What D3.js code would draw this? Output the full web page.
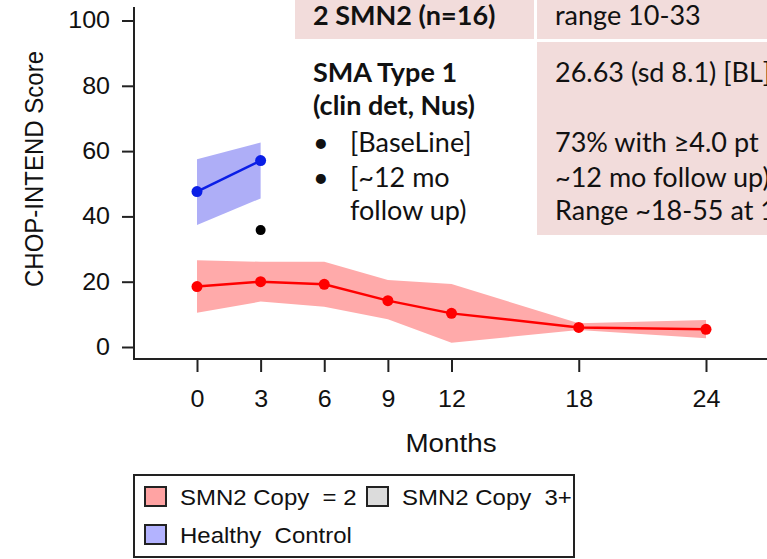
<!DOCTYPE html>
<html>
<head>
<meta charset="utf-8">
<script src="https://cdn.jsdelivr.net/npm/d3@7"></script>
<style>
  html, body { margin: 0; padding: 0; background: #fff; }
  svg { display: block; }
  text { white-space: pre; }
</style>
</head>
<body>
<svg id="chart" width="767" height="559"></svg>
<script>
// CHOP-INTEND score over follow-up months
const months = [0, 3, 6, 9, 12, 18, 24];
const copy2Mean  = [18.5, 20.0, 19.2, 14.2, 10.3, 6.0, 5.4];
const copy2Upper = [26.6, 26.1, 26.1, 20.5, 19.3, 7.3, 8.3];
const copy2Lower = [10.5, 13.9, 12.3, 8.5, 1.3, 5.2, 2.7];

const healthyMonths = [0, 3];
const healthyMean  = [47.6, 57.1];
const healthyUpper = [57.5, 62.6];
const healthyLower = [37.4, 45.5];

const copy3Months = [3];
const copy3Mean = [35.8];

const yTicks = [0, 20, 40, 60, 80, 100];
const xTicks = months;

const legendItems = [
  { label: "SMN2 Copy  = 2", fill: "#ffa3a3" },
  { label: "SMN2 Copy  3+", fill: "#dcdcdc" },
  { label: "Healthy  Control", fill: "#b3b3ff" }
];

// summary table text
const tableHeader = ["2 SMN2 (n=16)", "range 10-33"];
const tableLeft = ["SMA Type 1", "(clin det, Nus)"];
const tableBullets = ["[BaseLine]", "[~12 mo", "follow up)"];
const tableRight = ["26.63 (sd 8.1) [BL]", "73% with \u22654.0 pt \u2191", "~12 mo follow up)", "Range ~18-55 at 12 mo"];

const svg = d3.select("#chart");
const SX = 1.09; // horizontal stretch of chart lettering
const chartFont = "'Liberation Sans', Arial, Helvetica, sans-serif";

const x = d3.scaleLinear().domain([0, 24]).range([197, 706]);
const y = d3.scaleLinear().domain([0, 100]).range([347, 20.5]);

const axisX = 134, axisY = 359;

// ---- summary table ----
const tbl = svg.append("g").attr("font-family", "Lato, 'Open Sans', sans-serif").attr("font-size", 27).attr("fill", "#111");
tbl.append("rect").attr("x", 295).attr("y", 0).attr("width", 239).attr("height", 39).attr("fill", "#f2dcdb");
tbl.append("rect").attr("x", 537).attr("y", 0).attr("width", 230).attr("height", 39).attr("fill", "#f2dcdb");
tbl.append("rect").attr("x", 537).attr("y", 42).attr("width", 230).attr("height", 193).attr("fill", "#f2dcdb");
tbl.append("text").attr("x", 313).attr("y", 25).attr("font-weight", "bold").text(tableHeader[0]);
tbl.append("text").attr("x", 555).attr("y", 25).text(tableHeader[1]);
tableLeft.forEach((t, i) => {
  tbl.append("text").attr("x", 313).attr("y", 82 + i * 33).attr("font-weight", "bold").text(t);
});
const bulletY = [152, 187, 220];
tableBullets.forEach((t, i) => {
  if (i < 2) tbl.append("text").attr("x", 313).attr("y", bulletY[i]).text("\u2022");
  tbl.append("text").attr("x", 350).attr("y", bulletY[i]).text(t);
});
const rightY = [82, 152, 187, 220];
tableRight.forEach((t, i) => {
  tbl.append("text").attr("x", 555).attr("y", rightY[i]).text(t);
});

// ---- bands ----
const band = (m, lo, hi) => d3.area()
  .x((d, i) => x(m[i]))
  .y0((d, i) => y(lo[i]))
  .y1((d, i) => y(hi[i]))(m);

svg.append("path").attr("d", band(months, copy2Lower, copy2Upper))
  .attr("fill", "#ffaaaa");
svg.append("path").attr("d", band(healthyMonths, healthyLower, healthyUpper))
  .attr("fill", "#aeaef7");

// ---- lines and points ----
const line = (m, v) => d3.line().x((d, i) => x(m[i])).y((d, i) => y(v[i]))(m);

svg.append("path").attr("d", line(months, copy2Mean))
  .attr("fill", "none").attr("stroke", "#ff0000").attr("stroke-width", 2.5);
svg.selectAll("circle.c2").data(months).enter().append("circle")
  .attr("cx", (d) => x(d)).attr("cy", (d, i) => y(copy2Mean[i])).attr("r", 5.5).attr("fill", "#ff0000");

svg.append("path").attr("d", line(healthyMonths, healthyMean))
  .attr("fill", "none").attr("stroke", "#0a1ee6").attr("stroke-width", 2.5);
svg.selectAll("circle.hc").data(healthyMonths).enter().append("circle")
  .attr("cx", (d) => x(d)).attr("cy", (d, i) => y(healthyMean[i])).attr("r", 5.5).attr("fill", "#0a1ee6");

svg.selectAll("circle.c3").data(copy3Months).enter().append("circle")
  .attr("cx", (d) => x(d)).attr("cy", (d, i) => y(copy3Mean[i])).attr("r", 5).attr("fill", "#000");

// ---- axes ----
const yAxis = svg.append("g").attr("transform", `translate(${axisX},0)`)
  .call(d3.axisLeft(y).tickValues(yTicks).tickSize(12).tickPadding(0).tickSizeOuter(0));
yAxis.select(".domain").remove();
yAxis.selectAll(".tick line").attr("stroke", "#222").attr("stroke-width", 2);
yAxis.selectAll(".tick text")
  .attr("font-family", chartFont).attr("font-size", 23).attr("fill", "#111")
  .attr("x", -24 / SX).attr("transform", `scale(${SX},1)`);

const xAxis = svg.append("g").attr("transform", `translate(0,${axisY})`)
  .call(d3.axisBottom(x).tickValues(xTicks).tickSize(13).tickPadding(19).tickSizeOuter(0));
xAxis.select(".domain").remove();
xAxis.selectAll(".tick line").attr("stroke", "#222").attr("stroke-width", 2);
xAxis.selectAll(".tick text")
  .attr("font-family", chartFont).attr("font-size", 23).attr("fill", "#111")
  .attr("transform", `scale(${SX},1)`);

svg.append("path").attr("d", `M${axisX},7V${axisY}H767`)
  .attr("fill", "none").attr("stroke", "#222").attr("stroke-width", 2);

// axis titles
svg.append("text")
  .attr("transform", `translate(43,169) scale(${SX},1) rotate(-90)`)
  .attr("text-anchor", "middle").attr("font-family", chartFont).attr("font-size", 24).attr("fill", "#111")
  .text("CHOP-INTEND Score");
svg.append("text")
  .attr("transform", `translate(451,452) scale(${SX},1)`)
  .attr("text-anchor", "middle").attr("font-family", chartFont).attr("font-size", 25.5).attr("fill", "#111")
  .text("Months");

// ---- legend ----
const lg = svg.append("g");
lg.append("rect").attr("x", 134).attr("y", 475).attr("width", 440).attr("height", 82)
  .attr("fill", "#fff").attr("stroke", "#222").attr("stroke-width", 2);
const legendPos = [[145, 487], [367, 487], [145, 525]];
legendItems.forEach((it, i) => {
  const [lx, ly] = legendPos[i];
  lg.append("rect").attr("x", lx).attr("y", ly).attr("width", 21).attr("height", 19)
    .attr("fill", it.fill).attr("stroke", "#222").attr("stroke-width", 2);
  lg.append("text")
    .attr("transform", `translate(${lx + 35},${ly + 18}) scale(${SX},1)`)
    .attr("font-family", chartFont).attr("font-size", 22).attr("fill", "#111")
    .text(it.label);
});
</script>
</body>
</html>
